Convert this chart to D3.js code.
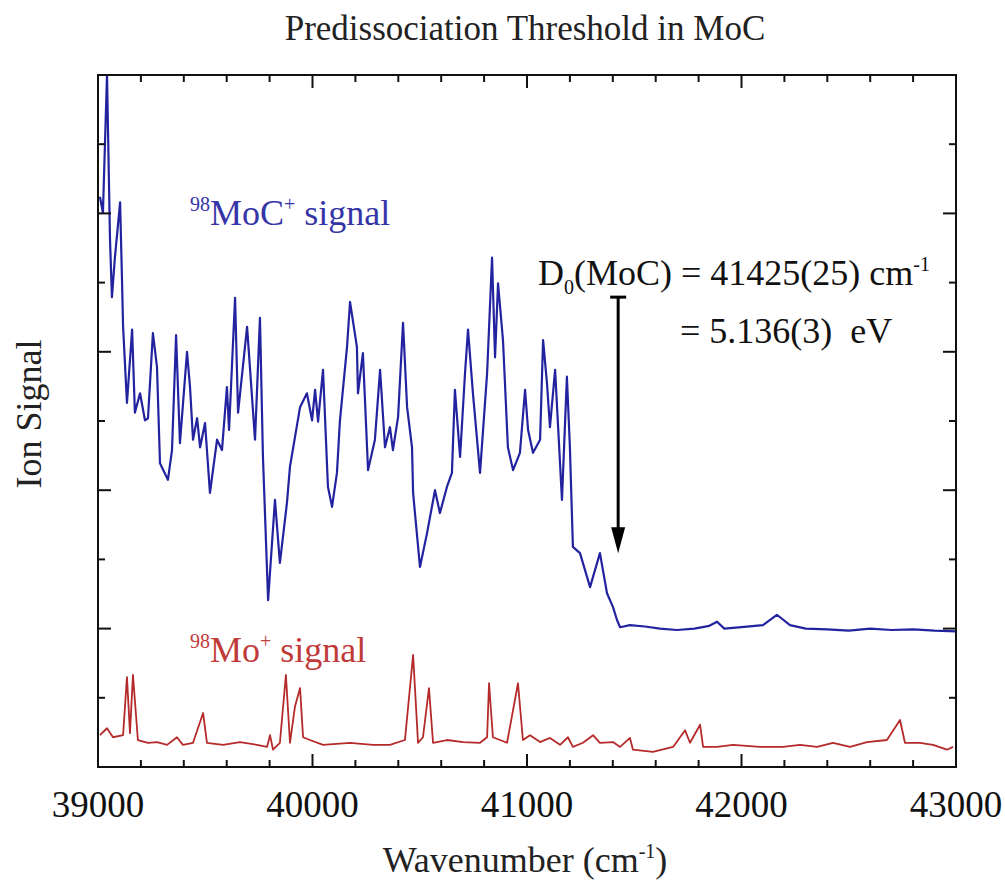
<!DOCTYPE html>
<html>
<head>
<meta charset="utf-8">
<script src="https://cdn.jsdelivr.net/npm/d3@7"></script>
<style>
  body { margin: 0; background: #fff; }
</style>
</head>
<body>
<div id="chart"></div>
<script>
// Predissociation threshold in MoC - two ion signal traces

// 98MoC+ ion signal (blue), wavenumber in cm-1, signal in arbitrary units
const mocWavenumber = [39009, 39023, 39042, 39056, 39065, 39079, 39103, 39112, 39117, 39135,
  39159, 39172, 39196, 39219, 39233, 39256, 39275, 39289, 39326, 39345,
  39364, 39382, 39415, 39429, 39443, 39462, 39476, 39499, 39522, 39555,
  39578, 39601, 39611, 39639, 39653, 39695, 39732, 39755, 39769, 39793,
  39825, 39848, 39881, 39895, 39942, 39974, 39998, 40012, 40026, 40049,
  40072, 40091, 40114, 40128, 40161, 40175, 40207, 40212, 40235, 40259,
  40291, 40315, 40338, 40361, 40375, 40399, 40422, 40441, 40464, 40469,
  40501, 40534, 40571, 40594, 40627, 40650, 40664, 40688, 40711, 40725,
  40748, 40781, 40814, 40837, 40851, 40865, 40888, 40911, 40935, 40967,
  40991, 41005, 41028, 41061, 41075, 41093, 41107, 41131, 41163, 41186,
  41200, 41214, 41247, 41294, 41340, 41373, 41401, 41420, 41434, 41480,
  41550, 41620, 41700, 41780, 41850, 41886, 41920, 42000, 42100, 42165,
  42226, 42300, 42400, 42500, 42600, 42700, 42800, 42900, 43000];
const mocSignal = [8.24, 8.01, 10.0, 7.62, 6.79, 7.37, 8.16, 7.03, 6.36, 5.26,
  6.32, 5.12, 5.40, 5.01, 5.04, 6.27, 5.78, 4.39, 4.15, 4.58,
  6.24, 4.68, 6.00, 5.49, 4.73, 5.04, 4.62, 4.97, 3.96, 4.73,
  4.58, 5.49, 4.87, 6.78, 5.12, 6.36, 4.73, 6.49, 4.48, 2.41,
  3.86, 2.95, 3.82, 4.34, 5.20, 5.40, 5.01, 5.45, 4.99, 5.74,
  4.05, 3.76, 4.25, 5.01, 6.07, 6.72, 6.07, 5.40, 5.98, 4.29,
  4.73, 5.74, 4.62, 4.91, 4.58, 5.06, 6.42, 5.20, 4.62, 3.96,
  2.89, 3.38, 4.00, 3.67, 4.05, 4.25, 5.45, 4.48, 5.69, 6.32,
  5.40, 4.25, 5.69, 7.36, 5.92, 6.99, 6.17, 4.62, 4.29, 4.54,
  5.45, 4.87, 4.54, 4.73, 6.17, 5.55, 4.91, 5.74, 3.86, 5.64,
  4.62, 3.18, 3.09, 2.60, 3.09, 2.51, 2.31, 2.12, 2.02, 2.05,
  2.03, 2.00, 1.98, 2.00, 2.04, 2.10, 2.00, 2.02, 2.05, 2.20,
  2.05, 2.00, 1.99, 1.97, 2.00, 1.98, 1.99, 1.97, 1.96];

// 98Mo+ ion signal (red)
const moWavenumber = [39009, 39042, 39070, 39117, 39135, 39149, 39163, 39186, 39233, 39275,
  39322, 39368, 39396, 39443, 39490, 39508, 39583, 39662, 39741, 39788,
  39802, 39816, 39848, 39876, 39895, 39918, 39942, 39956, 39988, 40049,
  40175, 40282, 40361, 40431, 40469, 40492, 40515, 40543, 40562, 40627,
  40702, 40781, 40814, 40823, 40841, 40874, 40907, 40958, 40981, 41014,
  41061, 41107, 41154, 41191, 41214, 41261, 41308, 41340, 41401, 41434,
  41480, 41494, 41587, 41681, 41737, 41760, 41807, 41821, 41886, 41960,
  42086, 42193, 42273, 42352, 42427, 42506, 42585, 42678, 42739, 42762,
  42832, 42893, 42958, 42986];
const moSignal = [0.46, 0.56, 0.43, 0.46, 1.30, 0.49, 1.33, 0.39, 0.35, 0.36,
  0.32, 0.43, 0.32, 0.35, 0.78, 0.35, 0.32, 0.36, 0.32, 0.29,
  0.46, 0.25, 0.35, 1.33, 0.35, 0.87, 1.14, 0.43, 0.39, 0.32,
  0.35, 0.32, 0.32, 0.39, 1.62, 0.35, 0.43, 1.14, 0.35, 0.39,
  0.36, 0.35, 0.43, 1.21, 0.43, 0.39, 0.35, 1.21, 0.39, 0.46,
  0.36, 0.42, 0.32, 0.43, 0.29, 0.35, 0.46, 0.35, 0.36, 0.29,
  0.42, 0.25, 0.22, 0.29, 0.53, 0.35, 0.61, 0.29, 0.29, 0.32,
  0.29, 0.29, 0.32, 0.29, 0.35, 0.29, 0.36, 0.39, 0.68, 0.35,
  0.35, 0.32, 0.25, 0.29];

// axis ticks
const xMajorTicks = [39000, 40000, 41000, 42000, 43000];
const xMinorTicks = d3.range(39200, 43000, 200).filter(v => v % 1000 !== 0);
const yMajorTicks = [0, 2, 4, 6, 8, 10];
const yMinorTicks = [1, 3, 5, 7, 9];

// threshold annotation
const thresholdWavenumber = 41425;
const arrowTop = 6.79;
const arrowTip = 3.09;

const width = 1005;
const height = 884;
const margin = { left: 98, right: 49, top: 75, bottom: 117 };
const serif = '"Liberation Serif"';

const svg = d3.select('#chart')
  .append('svg')
  .attr('width', width)
  .attr('height', height);

const x = d3.scaleLinear()
  .domain([39000, 43000])
  .range([margin.left, width - margin.right]);

const y = d3.scaleLinear()
  .domain([0, 10])
  .range([height - margin.bottom, margin.top]);

const x0 = x.range()[0], x1 = x.range()[1];
const y0 = y.range()[0], y1 = y.range()[1];

svg.append('clipPath')
  .attr('id', 'plot-clip')
  .append('rect')
  .attr('x', x0).attr('y', y1)
  .attr('width', x1 - x0).attr('height', y0 - y1);

const line = d3.line()
  .x(d => x(d[0]))
  .y(d => y(d[1]));

const plot = svg.append('g').attr('clip-path', 'url(#plot-clip)');

plot.append('path')
  .datum(d3.zip(moWavenumber, moSignal))
  .attr('d', line)
  .attr('fill', 'none')
  .attr('stroke', '#b52a2a')
  .attr('stroke-width', 1.8)
  .attr('stroke-linejoin', 'round');

plot.append('path')
  .datum(d3.zip(mocWavenumber, mocSignal))
  .attr('d', line)
  .attr('fill', 'none')
  .attr('stroke', '#2323a0')
  .attr('stroke-width', 2.2)
  .attr('stroke-linejoin', 'round');

// frame
svg.append('rect')
  .attr('x', x0).attr('y', y1)
  .attr('width', x1 - x0).attr('height', y0 - y1)
  .attr('fill', 'none')
  .attr('stroke', '#111')
  .attr('stroke-width', 2);

// inward ticks on all four sides
const tickG = svg.append('g').attr('stroke', '#111').attr('stroke-width', 2);
const majorLen = 13, minorLen = 7;

function xTicks(vals, len) {
  vals.forEach(v => {
    tickG.append('line').attr('x1', x(v)).attr('x2', x(v)).attr('y1', y0).attr('y2', y0 - len);
    tickG.append('line').attr('x1', x(v)).attr('x2', x(v)).attr('y1', y1).attr('y2', y1 + len);
  });
}
function yTicks(vals, len) {
  vals.forEach(v => {
    tickG.append('line').attr('y1', y(v)).attr('y2', y(v)).attr('x1', x0).attr('x2', x0 + len);
    tickG.append('line').attr('y1', y(v)).attr('y2', y(v)).attr('x1', x1).attr('x2', x1 - len);
  });
}
xTicks(xMajorTicks, majorLen);
xTicks(xMinorTicks, minorLen);
yTicks(yMajorTicks, majorLen);
yTicks(yMinorTicks, minorLen);

// helper: text with the serif face set on the element itself
function addText(parent) {
  return parent.append('text').style('font-family', serif);
}

// x tick labels
svg.append('g')
  .selectAll('text')
  .data(xMajorTicks)
  .join('text')
  .style('font-family', serif)
  .attr('x', d => x(d))
  .attr('y', 817)
  .attr('text-anchor', 'middle')
  .attr('font-size', 37)
  .attr('fill', '#111')
  .text(d => d);

// title
addText(svg)
  .attr('x', 525)
  .attr('y', 40)
  .attr('text-anchor', 'middle')
  .attr('font-size', 35)
  .attr('fill', '#222')
  .text('Predissociation Threshold in MoC');

// x axis title
const xt = addText(svg)
  .attr('x', 525)
  .attr('y', 872)
  .attr('text-anchor', 'middle')
  .attr('font-size', 36)
  .attr('fill', '#222');
xt.append('tspan').text('Wavenumber (cm');
xt.append('tspan').attr('font-size', 20).attr('dy', -14).text('-1');
xt.append('tspan').attr('dy', 14).text(')');

// y axis title
addText(svg)
  .attr('transform', 'translate(41,414) rotate(-90)')
  .attr('text-anchor', 'middle')
  .attr('font-size', 36)
  .attr('fill', '#222')
  .text('Ion Signal');

// series labels
const mocLabel = addText(svg)
  .attr('x', 190).attr('y', 225)
  .attr('font-size', 36)
  .attr('fill', '#3535a8');
mocLabel.append('tspan').attr('font-size', 20).attr('dy', -14).text('98');
mocLabel.append('tspan').attr('dy', 14).text('MoC');
mocLabel.append('tspan').attr('font-size', 20).attr('dy', -14).text('+');
mocLabel.append('tspan').attr('dy', 14).text(' signal');

const moLabel = addText(svg)
  .attr('x', 190).attr('y', 662)
  .attr('font-size', 36)
  .attr('fill', '#c03a3a');
moLabel.append('tspan').attr('font-size', 20).attr('dy', -14).text('98');
moLabel.append('tspan').attr('dy', 14).text('Mo');
moLabel.append('tspan').attr('font-size', 20).attr('dy', -14).text('+');
moLabel.append('tspan').attr('dy', 14).text(' signal');

// threshold arrow
const ax = x(thresholdWavenumber);
svg.append('line')
  .attr('x1', ax).attr('x2', ax)
  .attr('y1', y(arrowTop)).attr('y2', y(arrowTip) - 20)
  .attr('stroke', '#000').attr('stroke-width', 3);
svg.append('line')
  .attr('x1', ax - 8).attr('x2', ax + 8)
  .attr('y1', y(arrowTop)).attr('y2', y(arrowTop))
  .attr('stroke', '#000').attr('stroke-width', 3);
svg.append('path')
  .attr('d', `M${ax - 7},${y(arrowTip) - 26} L${ax + 7},${y(arrowTip) - 26} L${ax},${y(arrowTip)} Z`)
  .attr('fill', '#000');

// D0 annotation
const d0 = addText(svg)
  .attr('x', 538).attr('y', 285)
  .attr('font-size', 36)
  .attr('fill', '#111');
d0.append('tspan').text('D');
d0.append('tspan').attr('font-size', 20).attr('dy', 9).text('0');
d0.append('tspan').attr('dy', -9).text('(MoC) = 41425(25) cm');
d0.append('tspan').attr('font-size', 20).attr('dy', -14).text('-1');

addText(svg)
  .attr('x', 680).attr('y', 343)
  .attr('font-size', 36)
  .attr('fill', '#111')
  .style('white-space', 'pre')
  .text('= 5.136(3)  eV');
</script>
</body>
</html>
